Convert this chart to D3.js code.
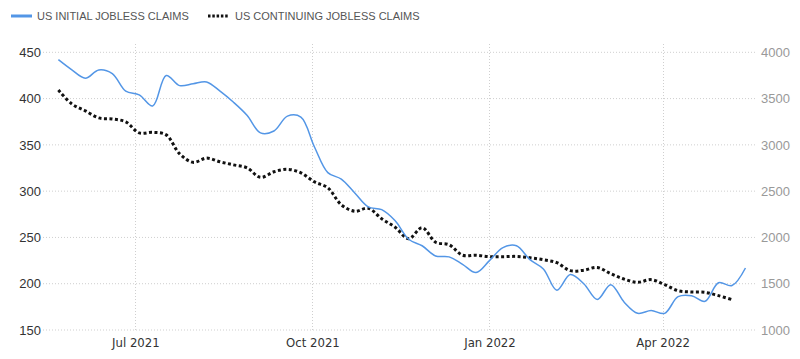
<!DOCTYPE html>
<html>
<head>
<meta charset="utf-8">
<script src="https://cdn.jsdelivr.net/npm/d3@7"></script>
<style>
  html, body { margin: 0; padding: 0; background: #fff; }
  svg { display: block; }
</style>
</head>
<body>
<svg id="chart" width="800" height="359"></svg>
<script>
const startDate = "2021-05-22"; // first weekly observation
const initialClaims = [442,431,422,431,427,408,404,392,425,414,416,418,408,396,382,363,365,381,380,348,320,313,298,283,280,268,248,241,230,229,221,212,225,239,241,226,216,193,210,200,183,199,180,168,171,168,186,187,181,201,198,217];
const continuingClaims = [3593,3442,3367,3291,3280,3248,3129,3135,3108,2903,2811,2857,2817,2784,2752,2649,2709,2736,2698,2601,2536,2353,2283,2315,2202,2110,1986,2105,1948,1921,1808,1808,1792,1792,1795,1781,1759,1727,1641,1646,1676,1608,1549,1515,1544,1490,1425,1411,1406,1371,1328];
const leftTicks = [150,200,250,300,350,400,450];
const rightTicks = [1000,1500,2000,2500,3000,3500,4000];
const xTickDates = ["2021-07-01","2021-10-01","2022-01-01","2022-04-01"];
const xTickLabels = ["Jul 2021","Oct 2021","Jan 2022","Apr 2022"];
const seriesNames = ["US INITIAL JOBLESS CLAIMS","US CONTINUING JOBLESS CLAIMS"];

const parse = d3.utcParse("%Y-%m-%d");
const t0 = parse(startDate);
const weekDate = i => d3.utcDay.offset(t0, 7 * i);

const svg = d3.select("#chart");
const L = 43, R = 757, T = 52.3, B = 330;

const x = d3.scaleUtc().domain([parse("2021-05-14"), parse("2022-05-20")]).range([L, R]);
const yL = d3.scaleLinear().domain([150, 450]).range([B, T]);
const yR = d3.scaleLinear().domain([1000, 4000]).range([B, T]);

// grid
const grid = svg.append("g");
grid.selectAll("line.h").data(leftTicks).join("line")
  .attr("x1", L).attr("x2", R)
  .attr("y1", d => yL(d)).attr("y2", d => yL(d))
  .attr("stroke", "#cfcfcf").attr("stroke-dasharray", "1,2").attr("stroke-width", 1);
grid.selectAll("line.v").data(xTickDates).join("line")
  .attr("x1", d => Math.round(x(parse(d))) + 0.5).attr("x2", d => Math.round(x(parse(d))) + 0.5)
  .attr("y1", 44).attr("y2", B)
  .attr("stroke", "#cfcfcf").attr("stroke-dasharray", "1,2").attr("stroke-width", 1);

// left axis
const axL = svg.append("g").attr("transform", `translate(${L},0)`)
  .call(d3.axisLeft(yL).tickValues(leftTicks).tickSize(0).tickPadding(2));
axL.select(".domain").remove();
axL.selectAll("text").attr("font-family", "'Liberation Sans', Arial, sans-serif")
  .attr("font-size", 13).attr("fill", "#333");

// right axis
const axR = svg.append("g").attr("transform", `translate(${R},0)`)
  .call(d3.axisRight(yR).tickValues(rightTicks).tickSize(0).tickPadding(4).tickFormat(d3.format("d")));
axR.select(".domain").remove();
axR.selectAll("text").attr("font-family", "'Liberation Sans', Arial, sans-serif")
  .attr("font-size", 13).attr("fill", "#999");

// x axis
const axX = svg.append("g").attr("transform", `translate(0,${B})`)
  .call(d3.axisBottom(x).tickValues(xTickDates.map(parse)).tickSize(0).tickPadding(8)
    .tickFormat((d, i) => xTickLabels[i]));
axX.select(".domain").remove();
axX.selectAll("text").attr("font-family", "'Liberation Sans Narrow', 'DejaVu Sans Condensed', sans-serif")
  .attr("font-size", 13).attr("fill", "#333");

// lines
const lineL = d3.line().x((d, i) => x(weekDate(i))).y(d => yL(d)).curve(d3.curveCatmullRom.alpha(0.5));
const lineR = d3.line().x((d, i) => x(weekDate(i))).y(d => yR(d)).curve(d3.curveCatmullRom.alpha(0.5));

svg.append("path").datum(continuingClaims).attr("d", lineR)
  .attr("fill", "none").attr("stroke", "#111").attr("stroke-width", 3)
  .attr("stroke-dasharray", "3,2.5");
svg.append("path").datum(initialClaims).attr("d", lineL)
  .attr("fill", "none").attr("stroke", "#5396e6").attr("stroke-width", 1.5);

// legend
const lg = svg.append("g");
lg.append("line").attr("x1", 11).attr("x2", 32).attr("y1", 16).attr("y2", 16)
  .attr("stroke", "#5396e6").attr("stroke-width", 3);
lg.append("text").attr("x", 37).attr("y", 20).text(seriesNames[0])
  .attr("font-family", "'Liberation Sans', Arial, sans-serif").attr("font-size", 11)
  .attr("fill", "#555");
lg.append("line").attr("x1", 208).attr("x2", 229).attr("y1", 16).attr("y2", 16)
  .attr("stroke", "#111").attr("stroke-width", 3).attr("stroke-dasharray", "2.5,1.8");
lg.append("text").attr("x", 235).attr("y", 20).text(seriesNames[1])
  .attr("font-family", "'Liberation Sans', Arial, sans-serif").attr("font-size", 11)
  .attr("fill", "#555");
</script>
</body>
</html>
